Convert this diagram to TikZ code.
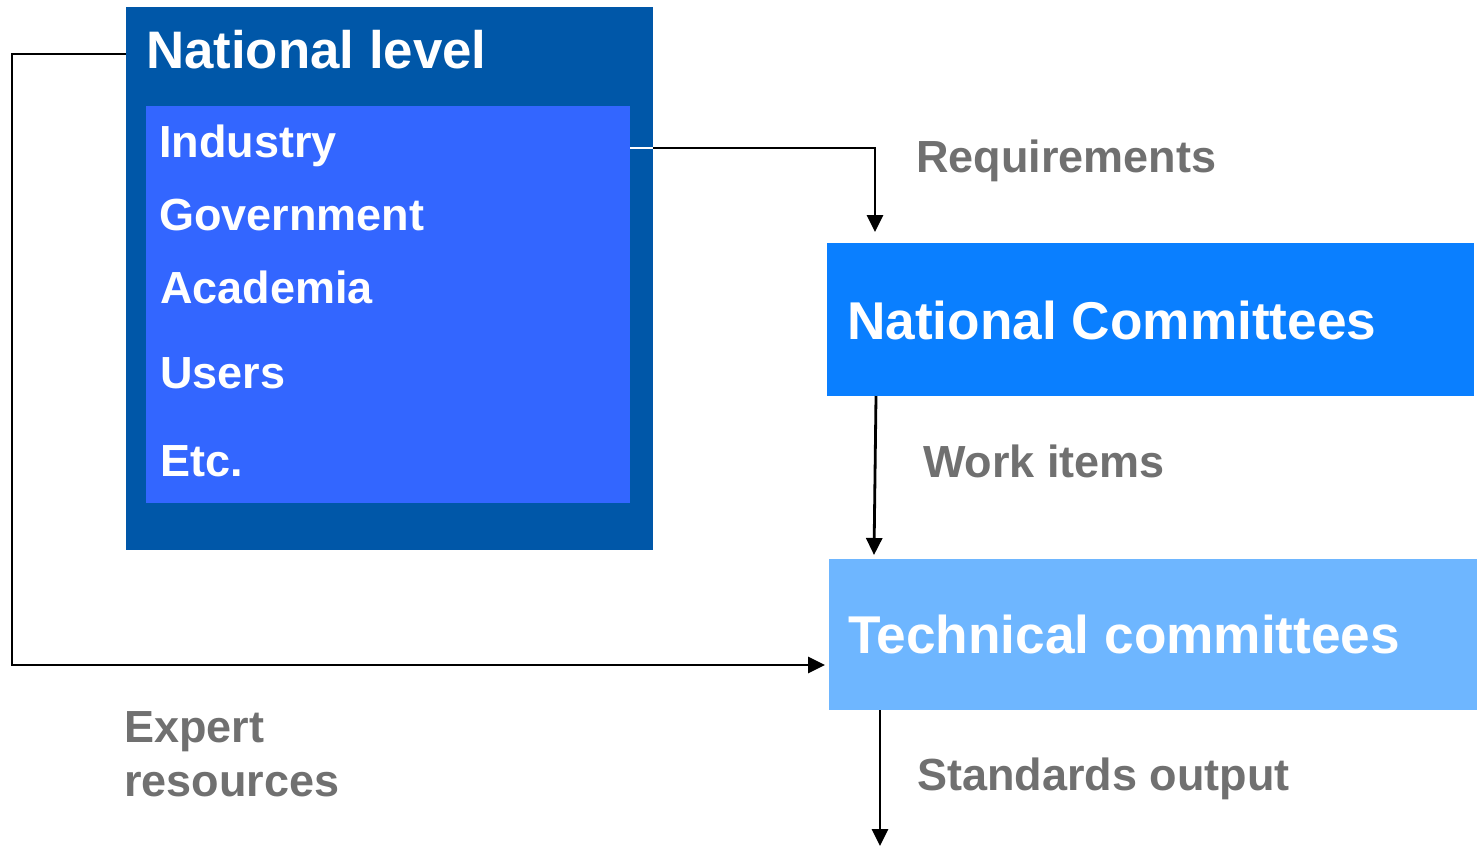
\documentclass[tikz,border=0pt]{standalone}
\usepackage{fontspec}
\setmainfont{Liberation Sans}
\usetikzlibrary{arrows.meta}
\definecolor{darkblue}{HTML}{0057A8}
\definecolor{innerblue}{HTML}{3366FF}
\definecolor{ncblue}{HTML}{0A7FFF}
\definecolor{tcblue}{HTML}{6EB6FF}
\definecolor{labelgray}{HTML}{707070}
\begin{document}
\begin{tikzpicture}[x=1pt,y=-1pt,
  boxshape/.style={draw=none,inner sep=0pt,anchor=north west},
  wtext/.style={text=white,font=\bfseries\fontsize{45}{50}\selectfont,anchor=base west,inner sep=0pt},
  btext/.style={text=white,font=\bfseries\fontsize{53.2}{58}\selectfont,anchor=base west,inner sep=0pt},
  gtext/.style={text=labelgray,font=\bfseries\fontsize{45}{50}\selectfont,anchor=base west,inner sep=0pt},
  conn/.style={line width=2.8pt,black},
  arr/.style={conn,-{Triangle[width=16pt,length=17pt]}}]
\useasboundingbox (0,0) rectangle (1477,846);
\fill[white] (0,0) rectangle (1477,846);
% boxes
\node[boxshape,fill=darkblue,minimum width=527pt,minimum height=543pt] (nat) at (126,7) {};
\node[boxshape,fill=innerblue,minimum width=484pt,minimum height=397pt] (inner) at (146,106) {};
\node[boxshape,fill=ncblue,minimum width=647pt,minimum height=153pt] (nc) at (827,243) {};
\node[boxshape,fill=tcblue,minimum width=648pt,minimum height=151pt] (tc) at (829,559) {};
% texts
\node[wtext,font=\bfseries\fontsize{52.8}{58}\selectfont] (tnat) at (146,68) {National level};
\node[wtext] (tind) at (159,157) {Industry};
\node[wtext] (tgov) at (159,230) {Government};
\node[wtext] (taca) at (160,303) {Academia};
\node[wtext] (tusr) at (160,388) {Users};
\node[wtext] (tetc) at (160,476) {Etc.};
\node[btext] (tnc) at (847,339) {National Committees};
\node[btext] (ttc) at (848,653) {Technical committees};
\node[gtext] (treq) at (916,172) {Requirements};
\node[gtext] (twork) at (923,477) {Work items};
\node[gtext] (tstd) at (917,790) {Standards output};
\node[gtext] (texp) at (124,742) {Expert};
\node[gtext] (tres) at (124,796) {resources};
% connectors
\coordinate (r1) at (653,148);
\coordinate (r2) at (875,232);
\draw[white,line width=2pt] (inner.east |- r1) -- (r1);
\draw[arr] (r1) -| (r2);
\coordinate (l1) at (12,54);
\coordinate (l2) at (12,665);
\coordinate (l3) at (825,665);
\draw[arr] (nat.west |- l1) -- (l1) -- (l2) -- (l3);
\coordinate (w1) at (876,396);
\coordinate (w2) at (874,555);
\draw[arr] (w1) -- (w2);
\coordinate (s1) at (880,710);
\coordinate (s2) at (880,846);
\draw[arr] (s1) -- (s2);
\end{tikzpicture}
\end{document}
